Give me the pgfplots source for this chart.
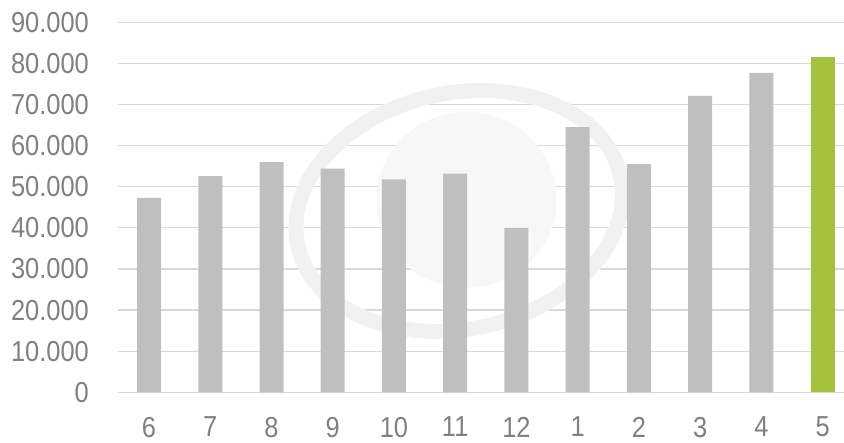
\documentclass[border=0pt]{standalone}
\usepackage{fontspec}
\setmainfont{Liberation Sans}[FakeStretch=0.88]
\usepackage{pgfplots}
\pgfplotsset{compat=1.18}

\definecolor{barGray}{HTML}{BFBFBF}
\definecolor{barGreen}{HTML}{A6C13C}
\definecolor{tickGray}{HTML}{808080}
\definecolor{gridGray}{HTML}{D9D9D9}
\definecolor{markGray}{HTML}{F1F1F1}

\begin{document}
\begin{tikzpicture}
  \begin{axis}[
      name=ax,
      scale only axis,
      width=726bp, height=370bp,
      ymin=0, ymax=90000,
      xmin=-0.507, xmax=11.35,
      ytick={0,10000,...,90000},
      xtick={0,...,11},
      xticklabels={6,7,8,9,10,11,12,1,2,3,4,5},
      scaled y ticks=false,
      /pgf/number format/.cd, fixed, 1000 sep={.}, assume math mode=true,
      /pgfplots/.cd,
      ymajorgrids,
      grid style={gridGray, line width=1.2bp},
      axis line style={draw=none},
      major tick length=0pt,
      ticklabel style={font=\fontsize{28.9bp}{30bp}\selectfont, text=tickGray},
      yticklabel style={anchor=east, inner sep=0pt, xshift=-29bp},
      xticklabel style={anchor=north, inner sep=0pt, yshift=-24.5bp},
      ybar, bar width=24bp,
      clip=false,
    ]
    % faint watermark logo behind the bars
    \draw[markGray, line width=15bp, rotate around={12:(rel axis cs:0.47,0.49)}]
      (rel axis cs:0.47,0.49) ellipse [x radius=165bp, y radius=118bp];
    \fill[markGray!60!white] (rel axis cs:0.48,0.52) ellipse [x radius=90bp, y radius=88bp];

    \addplot[fill=barGray, draw=none, bar shift=0pt] coordinates {
      (0,47300) (1,52600) (2,56000) (3,54400) (4,51800) (5,53200)
      (6,40000) (7,64500) (8,55500) (9,72100) (10,77700)
    };
    \addplot[fill=barGreen, draw=none, bar shift=0pt] coordinates {
      (11,81600)
    };
  \end{axis}
  \pgfresetboundingbox
  \path ([xshift=-118bp,yshift=-50.5bp]ax.south west) rectangle ([yshift=22.3bp]ax.north east);
\end{tikzpicture}
\end{document}
